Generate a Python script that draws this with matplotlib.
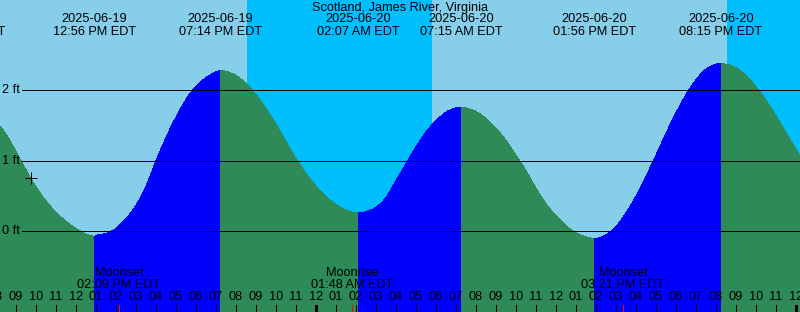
import numpy as np
import matplotlib
matplotlib.use("Agg")
import matplotlib.pyplot as plt
from matplotlib.path import Path
from matplotlib.patches import PathPatch

plt.rcParams['font.family'] = ['Liberation Sans', 'DejaVu Sans']

# hours counted from 2025-06-19 00:00 EDT
grid_hours = np.arange(8.0, 48.51, 0.5)
grid_ft = [1.55, 1.38, 1.13, 0.87, 0.63, 0.43, 0.27, 0.14, 0.04, -0.04,
           -0.06, -0.03, 0.04, 0.18, 0.37, 0.64, 1.00, 1.33, 1.62, 1.87,
           2.06, 2.18, 2.26, 2.27, 2.21, 2.10, 1.94, 1.74, 1.52, 1.27,
           1.03, 0.82, 0.64, 0.49, 0.38, 0.30, 0.26, 0.28, 0.34, 0.48,
           0.72, 0.96, 1.20, 1.41, 1.57, 1.69, 1.75, 1.75, 1.70, 1.60,
           1.46, 1.29, 1.08, 0.86, 0.61, 0.39, 0.22, 0.08, -0.02, -0.08,
           -0.10, -0.05, 0.07, 0.26, 0.50, 0.78, 1.08, 1.39, 1.68, 1.94,
           2.15, 2.30, 2.37, 2.37, 2.32, 2.21, 2.05, 1.86, 1.64, 1.40,
           1.16, 0.93]

# high / low tide events
event_hours = [6.40, 12.933, 19.233, 26.117, 31.25, 37.933, 44.25]
event_ft = [1.85, -0.07, 2.28, 0.26, 1.76, -0.10, 2.38]
event_dates = ['2025-06-19', '2025-06-19', '2025-06-19', '2025-06-20',
               '2025-06-20', '2025-06-20', '2025-06-20']
event_times = ['06:24 AM EDT', '12:56 PM EDT', '07:14 PM EDT', '02:07 AM EDT',
               '07:15 AM EDT', '01:56 PM EDT', '08:15 PM EDT']

# sunset / sunrise
night_start = [20.55, 44.55]
night_end = [29.80, 49.0]

# moon
moon_hours = [14.15, 25.80, 39.35]
moon_names = ['Moonset', 'Moonrise', 'Moonset']
moon_times = ['02:09 PM EDT', '01:48 AM EDT', '03:21 PM EDT']

now_hour, now_ft = 9.75, 0.76
title = 'Scotland, James River, Virginia'

sky_day = '#87CEEB'
sky_night = '#00BFFF'
c_fall = '#2E8B57'
c_rise = '#0000FF'
fs = 9.2
px = 0.72  # one pixel in points

t = np.concatenate([grid_hours, event_hours])
h = np.concatenate([grid_ft, event_ft])
order = np.argsort(t)
t, h = t[order], h[order]
slope = np.gradient(h, t)
slope[np.isin(t, event_hours)] = 0.0

W, H = 800, 312
fig = plt.figure(figsize=(W / 100, H / 100), dpi=100)
ax = fig.add_axes([0, 0, 1, 1])
x0 = 24 - 316 / 20
x1 = x0 + W / 20
y0 = -(H - 231.3) / 70.5
y1 = 231.3 / 70.5
ax.set_xlim(x0, x1)
ax.set_ylim(y0, y1)
ax.axis('off')
fig.patch.set_facecolor(sky_day)

for a, b in zip(night_start, night_end):
    ax.axvspan(a, b, color=sky_night, lw=0, zorder=0, antialiased=False)


def area(ts, hs, ms, bottom):
    verts = [(ts[0], bottom), (ts[0], hs[0])]
    codes = [Path.MOVETO, Path.LINETO]
    for i in range(len(ts) - 1):
        d = ts[i + 1] - ts[i]
        verts += [(ts[i] + d / 3, hs[i] + ms[i] * d / 3),
                  (ts[i + 1] - d / 3, hs[i + 1] - ms[i + 1] * d / 3),
                  (ts[i + 1], hs[i + 1])]
        codes += [Path.CURVE4] * 3
    verts += [(ts[-1], bottom), (ts[0], bottom)]
    codes += [Path.LINETO, Path.CLOSEPOLY]
    return Path(verts, codes)


# fill under the curve: blue when rising, green when falling
bounds = [t[0]] + [e for e in event_hours if t[0] < e < t[-1]] + [t[-1]]
for a, b in zip(bounds[:-1], bounds[1:]):
    m = (t >= a) & (t <= b)
    col = c_rise if h[m][-1] > h[m][0] else c_fall
    ax.add_patch(PathPatch(area(t[m], h[m], slope[m], y0 - 0.1), fc=col, lw=0,
                           zorder=1, antialiased=False))

# reference lines
xl = x0 + 22 / 20
for lev in [0, 1, 2]:
    ax.plot([xl, x1], [lev, lev], color='black', lw=px, zorder=3, antialiased=False)
    ax.text(x0 + 2.5 / 20, lev, f'{lev} ft', fontsize=fs, ha='left', va='center', zorder=4)

ax.plot(now_hour, now_ft, marker='+', ms=8, mew=px, color='black', zorder=4,
        antialiased=False)

tr = ax.get_xaxis_transform()
ax.text(0.5, 1 - 8 / H, title, transform=ax.transAxes, ha='center', va='center', fontsize=fs)
for eh, d, tm in zip(event_hours, event_dates, event_times):
    ax.text(eh, 1 - 19.5 / H, d, transform=tr, ha='center', va='center', fontsize=fs, clip_on=True)
    ax.text(eh, 1 - 32 / H, tm, transform=tr, ha='center', va='center', fontsize=fs, clip_on=True)

# hour ticks
tick_top = (H - 305) / H
for hr in range(8, 49):
    lw = 3 * px if hr % 24 == 0 else px
    ax.plot([hr, hr], [0, tick_top], transform=tr, color='black', lw=lw, zorder=5,
            solid_capstyle='butt', antialiased=False)
    lab = '%02d' % ((hr - 1) % 12 + 1)
    ax.text(hr, 1 - 297.5 / H, lab, transform=tr, ha='center', va='center', fontsize=fs, zorder=5)

for mh, name, mt in zip(moon_hours, moon_names, moon_times):
    ax.plot([mh, mh], [0, tick_top], transform=tr, color='red', lw=px, zorder=6,
            solid_capstyle='butt', antialiased=False)
    ax.text(mh, 1 - 273.5 / H, name, transform=tr, ha='center', va='center', fontsize=fs, zorder=5)
    ax.text(mh, 1 - 285.5 / H, mt, transform=tr, ha='center', va='center', fontsize=fs, zorder=5)

fig.savefig('out.png', dpi=100, facecolor=sky_day)
